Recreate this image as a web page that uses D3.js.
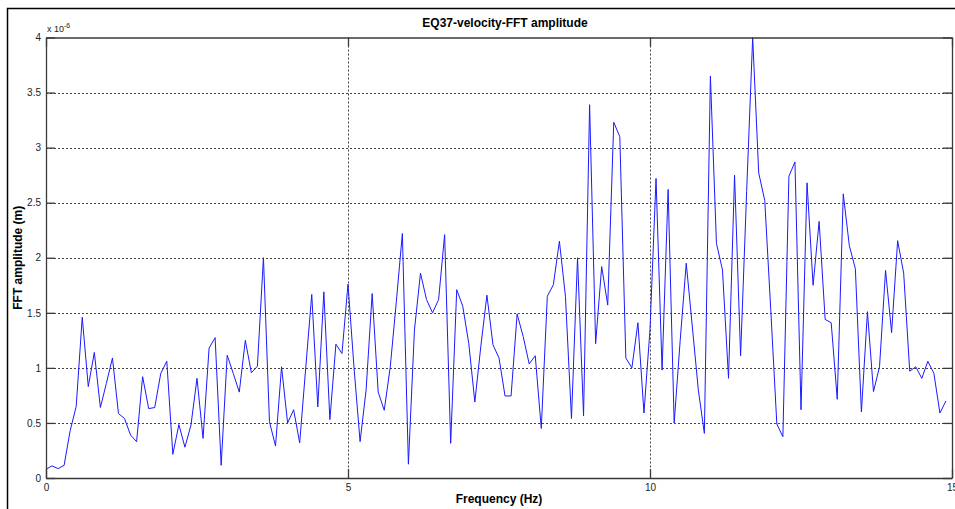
<!DOCTYPE html>
<html>
<head>
<meta charset="utf-8">
<script src="https://cdn.jsdelivr.net/npm/d3@7"></script>
<style>
  html, body { margin: 0; padding: 0; background: #fff; }
  svg { display: block; font-family: "Liberation Sans", Arial, sans-serif; }
</style>
</head>
<body>
<svg id="chart" width="955" height="509"></svg>
<script>
// Frequency step of the spectrum (Hz) and the amplitude values (x 1e-6 m)
const freqStep = 0.1;
const amplitude = [
  0.08, 0.11, 0.085, 0.115, 0.43, 0.65, 1.46, 0.83, 1.14, 0.64,
  0.86, 1.09, 0.585, 0.54, 0.39, 0.33, 0.92, 0.63, 0.64, 0.95,
  1.06, 0.215, 0.485, 0.28, 0.48, 0.905, 0.36, 1.18, 1.275, 0.115,
  1.115, 0.95, 0.78, 1.25, 0.955, 1.015, 2.0, 0.51, 0.29, 1.01,
  0.5, 0.62, 0.32, 1.0, 1.667, 0.645, 1.69, 0.53, 1.215, 1.13,
  1.76, 1.0, 0.33, 0.8, 1.675, 0.78, 0.615, 1.01, 1.6, 2.22,
  0.125, 1.345, 1.86, 1.62, 1.5, 1.62, 2.21, 0.315, 1.71, 1.56,
  1.22, 0.69, 1.2, 1.66, 1.21, 1.09, 0.745, 0.745, 1.49, 1.285,
  1.036, 1.11, 0.45, 1.65, 1.755, 2.15, 1.65, 0.54, 2.0, 0.565,
  3.39, 1.22, 1.92, 1.57, 3.23, 3.10, 1.09, 1.0, 1.41, 0.59,
  1.35, 2.72, 0.98, 2.62, 0.5, 1.25, 1.95, 1.38, 0.8, 0.405,
  3.65, 2.13, 1.89, 0.905, 2.75, 1.11, 2.6, 4.0, 2.77, 2.52,
  1.52, 0.49, 0.375, 2.74, 2.87, 0.62, 2.68, 1.75, 2.33, 1.44,
  1.41, 0.715, 2.58, 2.11, 1.9, 0.6, 1.51, 0.785, 1.01, 1.885,
  1.32, 2.155, 1.86, 0.97, 1.01, 0.905, 1.06, 0.95, 0.59, 0.70
];
const xTicks = [0, 5, 10, 15];
const yTicks = [0, 0.5, 1, 1.5, 2, 2.5, 3, 3.5, 4];

const titleText = "EQ37-velocity-FFT amplitude";
const xLabelText = "Frequency (Hz)";
const yLabelText = "FFT amplitude (m)";

const svg = d3.select("#chart");
const W = 955, H = 509;

// figure frame
svg.append("rect")
  .attr("x", 7.5).attr("y", 8.5)
  .attr("width", W + 10).attr("height", H + 10)
  .attr("fill", "#fff").attr("stroke", "#000").attr("stroke-width", 1.5);

const plot = { left: 46, right: 952, top: 37.5, bottom: 478 };
const x = d3.scaleLinear().domain([0, 15]).range([plot.left, plot.right]);
const y = d3.scaleLinear().domain([0, 4]).range([plot.bottom, plot.top]);

const data = amplitude.map((v, i) => ({ f: +(i * freqStep).toFixed(2), v }));

const g = svg.append("g");

// dotted grid
g.append("g")
  .selectAll("line")
  .data(yTicks.filter(t => t > 0 && t < 4))
  .join("line")
  .attr("x1", plot.left).attr("x2", plot.right)
  .attr("y1", d => Math.round(y(d)) + 0.5).attr("y2", d => Math.round(y(d)) + 0.5)
  .attr("stroke", "#444").attr("stroke-width", 1)
  .attr("stroke-dasharray", "2,2");

g.append("g")
  .selectAll("line")
  .data(xTicks.filter(t => t > 0 && t < 15))
  .join("line")
  .attr("x1", d => Math.round(x(d)) + 0.5).attr("x2", d => Math.round(x(d)) + 0.5)
  .attr("y1", plot.top).attr("y2", plot.bottom)
  .attr("stroke", "#444").attr("stroke-width", 1)
  .attr("stroke-dasharray", "2,2");

// data line
const line = d3.line().x(d => x(d.f)).y(d => y(d.v));
g.append("path")
  .datum(data)
  .attr("d", line)
  .attr("fill", "none")
  .attr("stroke", "#1a1aff")
  .attr("stroke-width", 1)
  .attr("stroke-linejoin", "miter");

// axes box with inward ticks on all four sides
const tickLen = 9;
const axisColor = "#3a3a3a";
const axL = d3.axisLeft(y).tickValues(yTicks).tickSizeInner(-tickLen).tickSizeOuter(0)
  .tickFormat(d3.format("~g")).tickPadding(5);
const axR = d3.axisRight(y).tickValues(yTicks).tickSizeInner(-tickLen).tickSizeOuter(0).tickFormat("");
const axB = d3.axisBottom(x).tickValues(xTicks).tickSizeInner(-tickLen).tickSizeOuter(0)
  .tickFormat(d3.format("~g")).tickPadding(6);
const axT = d3.axisTop(x).tickValues(xTicks).tickSizeInner(-tickLen).tickSizeOuter(0).tickFormat("");

function styleAxis(sel) {
  sel.select(".domain").attr("stroke", axisColor).attr("stroke-width", 1.3);
  sel.selectAll(".tick line").attr("stroke", axisColor).attr("stroke-width", 1.3);
  sel.selectAll(".tick text").attr("fill", "#222").style("font-size", "10px");
}

svg.append("g").attr("transform", `translate(${plot.left},0)`).call(axL).call(styleAxis);
svg.append("g").attr("transform", `translate(${plot.right},0)`).call(axR).call(styleAxis);
svg.append("g").attr("transform", `translate(0,${plot.bottom})`).call(axB).call(styleAxis);
svg.append("g").attr("transform", `translate(0,${plot.top})`).call(axT).call(styleAxis);

// exponent marker
const expo = svg.append("text")
  .attr("x", plot.left + 1).attr("y", plot.top - 6)
  .attr("fill", "#222").style("font-size", "9px");
expo.append("tspan").text("x 10");
expo.append("tspan").attr("dy", -4).style("font-size", "7px").text("-6");

// title and axis labels
svg.append("text")
  .attr("x", 505).attr("y", 27)
  .attr("text-anchor", "middle")
  .style("font-size", "12px").style("font-weight", "bold")
  .attr("fill", "#000")
  .text(titleText);

svg.append("text")
  .attr("x", (plot.left + plot.right) / 2).attr("y", 503)
  .attr("text-anchor", "middle")
  .style("font-size", "12px").style("font-weight", "bold")
  .attr("fill", "#000")
  .text(xLabelText);

svg.append("text")
  .attr("transform", `translate(22,${(plot.top + plot.bottom) / 2}) rotate(-90)`)
  .attr("text-anchor", "middle")
  .style("font-size", "12px").style("font-weight", "bold")
  .attr("fill", "#000")
  .text(yLabelText);
</script>
</body>
</html>
